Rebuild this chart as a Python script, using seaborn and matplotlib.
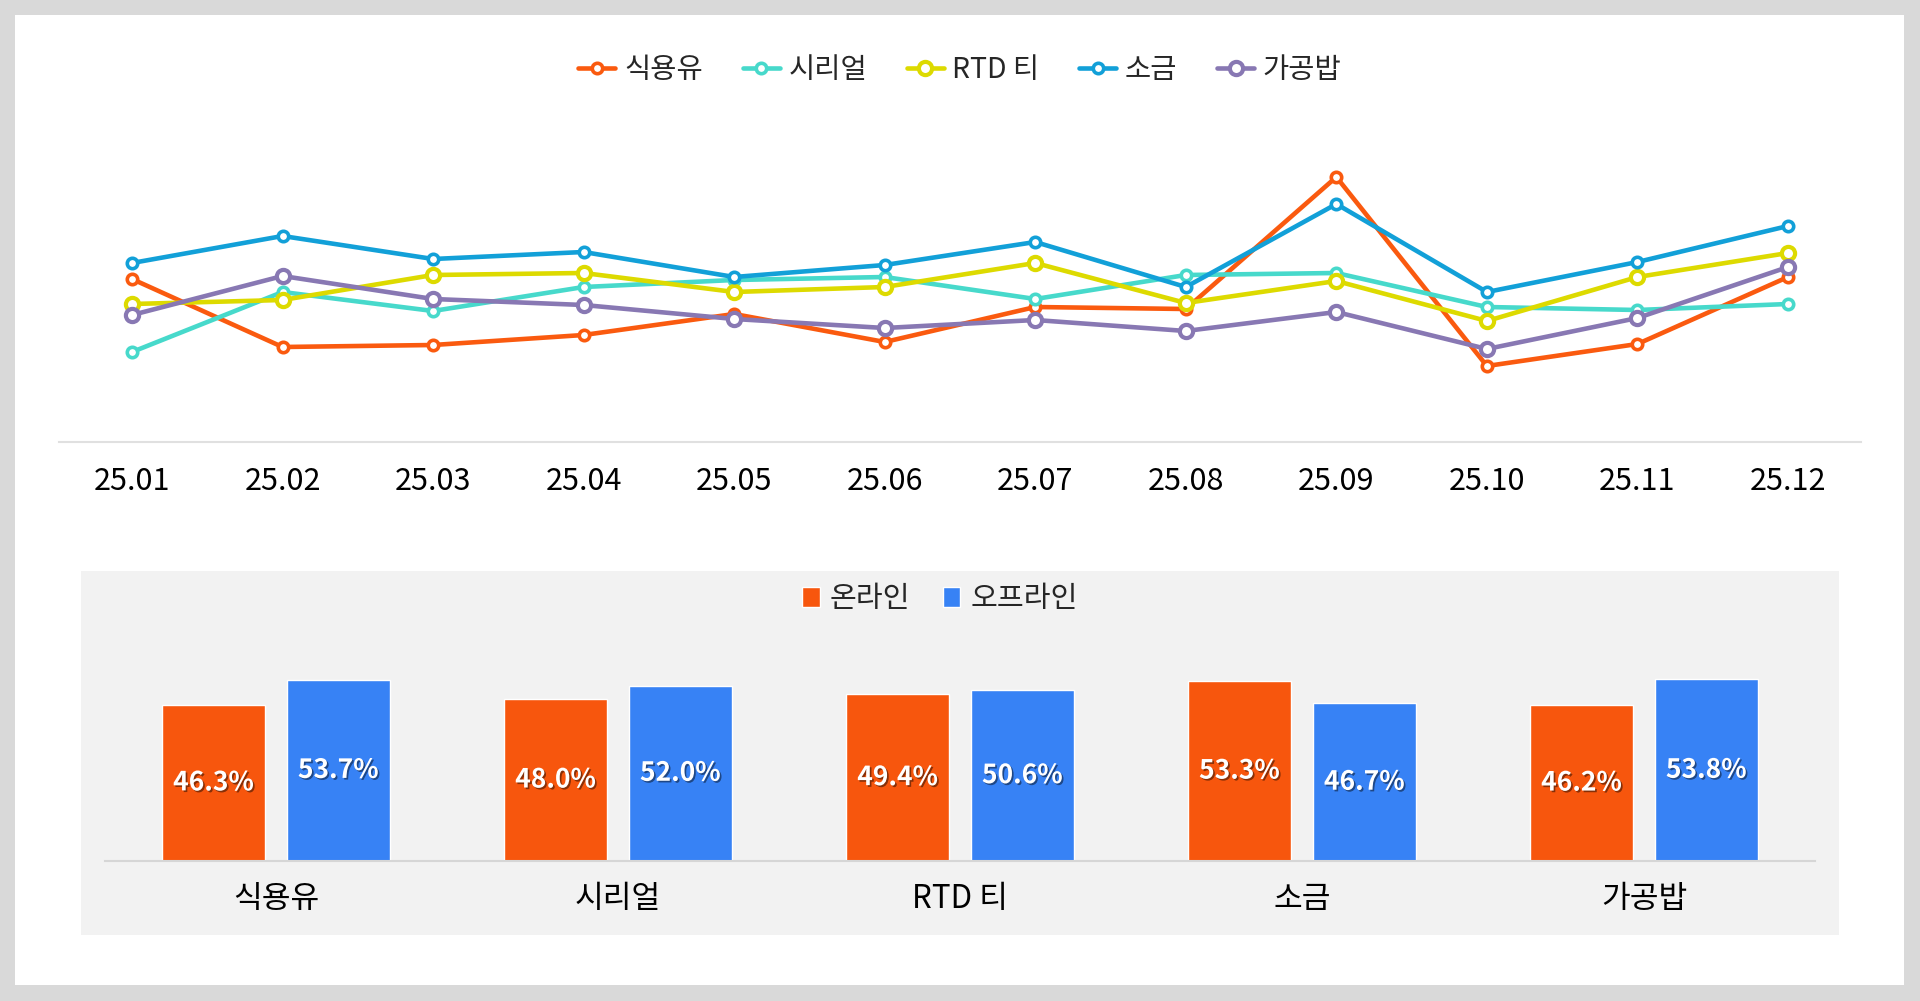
import pandas as pd
import numpy as np
import matplotlib
matplotlib.use('Agg')
import matplotlib.pyplot as plt
import matplotlib.patheffects as pe
from matplotlib.patches import Rectangle
import seaborn as sns

# 월별 추이 (상대 지수, 축 눈금 없음)
months = ['25.01', '25.02', '25.03', '25.04', '25.05', '25.06',
          '25.07', '25.08', '25.09', '25.10', '25.11', '25.12']
oil = [163, 95, 97, 107, 128, 100, 135, 133, 265, 76, 98, 165]
cereal = [90, 150, 131, 155, 162, 165, 143, 167, 169, 135, 132, 138]
rtd_tea = [138, 142, 167, 169, 150, 155, 179, 139, 161, 121, 165, 189]
salt = [179, 206, 183, 190, 165, 177, 200, 155, 238, 150, 180, 216]
rice = [127, 166, 143, 137, 123, 114, 122, 111, 130, 93, 124, 175]

series_names = ['식용유', '시리얼', 'RTD 티', '소금', '가공밥']
series_vals = [oil, cereal, rtd_tea, salt, rice]
line_colors = ['#FA5A0F', '#47D9CB', '#DDDA00', '#12A0D8', '#8878B3']
marker_big = [False, False, True, False, True]

# 채널별 비중
products = ['식용유', '시리얼', 'RTD 티', '소금', '가공밥']
online = [46.3, 48.0, 49.4, 53.3, 46.2]
offline = [53.7, 52.0, 50.6, 46.7, 53.8]
bar_colors = ['#F7560D', '#3782F5']

sns.set_theme(style='white')
plt.rcParams['font.family'] = ['Noto Sans CJK KR', 'DejaVu Sans']

fig = plt.figure(figsize=(19.2, 10.01), dpi=100)
fig.patch.set_facecolor('#d9d9d9')

# 흰색 카드와 하단 회색 패널
fig.patches.append(Rectangle((15 / 1920, 1 - 985 / 1001), 1889 / 1920, 970 / 1001,
                             transform=fig.transFigure, facecolor='white',
                             edgecolor='none', zorder=-10))
fig.patches.append(Rectangle((81 / 1920, 1 - 935 / 1001), 1758 / 1920, 364 / 1001,
                             transform=fig.transFigure, facecolor='#f2f2f2',
                             edgecolor='none', zorder=-9))

# ---- 선 그래프 ----
ax1 = fig.add_axes([59 / 1920, 1 - 442 / 1001, 1802 / 1920, 322 / 1001])
ax1.patch.set_alpha(0)
for name, vals, c, big in zip(series_names, series_vals, line_colors, marker_big):
    sns.lineplot(x=months, y=vals, ax=ax1, color=c, linewidth=3.3,
                 marker='o', markersize=9.5 if big else 7.5,
                 markerfacecolor='white', markeredgecolor=c,
                 markeredgewidth=3.0 if big else 2.6, label=name)
ax1.set_xlim(-0.485, 11.485)
ax1.set_ylim(0, 322)
ax1.set_yticks([])
ax1.set_xlabel('')
ax1.set_ylabel('')
for s in ['top', 'right', 'left']:
    ax1.spines[s].set_visible(False)
ax1.spines['bottom'].set_color('#e0e0e0')
ax1.spines['bottom'].set_linewidth(1.5)
ax1.tick_params(axis='x', length=0, pad=17, labelsize=22, labelcolor='black')

handles, labels = ax1.get_legend_handles_labels()
ax1.get_legend().remove()
fig.legend(handles, labels, loc='center', bbox_to_anchor=(0.5, 1 - 70 / 1001),
           ncol=5, frameon=False, fontsize=20.5, handlelength=1.3,
           handletextpad=0.3, columnspacing=1.4)

# ---- 막대 그래프 ----
df_bar = pd.DataFrame({
    '품목': products * 2,
    '채널': ['온라인'] * len(products) + ['오프라인'] * len(products),
    '비중': online + offline,
})
ax2 = fig.add_axes([105 / 1920, 1 - 861 / 1001, 1710 / 1920, 221 / 1001])
ax2.patch.set_alpha(0)
sns.barplot(data=df_bar, x='품목', y='비중', hue='채널', palette=bar_colors,
            width=0.73, gap=0.18, ax=ax2, saturation=1)
ax2.set_xlim(-0.5, 4.5)
ax2.set_ylim(0, 65.5)
ax2.set_yticks([])
ax2.set_xlabel('')
ax2.set_ylabel('')
for s in ['top', 'right', 'left']:
    ax2.spines[s].set_visible(False)
ax2.spines['bottom'].set_color('#d6d6d6')
ax2.spines['bottom'].set_linewidth(1.5)
ax2.tick_params(axis='x', length=0, pad=15.5, labelsize=22.5, labelcolor='black')

shadow = [pe.withSimplePatchShadow(offset=(1.2, -1.2), shadow_rgbFace='black', alpha=0.45)]
for cont in ax2.containers:
    ax2.bar_label(cont, fmt='%.1f%%', label_type='center', color='white',
                  fontsize=19, fontweight='bold', path_effects=shadow)

h2, l2 = ax2.get_legend_handles_labels()
ax2.get_legend().remove()
fig.legend(h2, l2, loc='center', bbox_to_anchor=(940 / 1920, 1 - 599 / 1001),
           ncol=2, frameon=False, fontsize=21, handlelength=0.6, handleheight=0.7,
           handletextpad=0.35, columnspacing=1.1)

fig.savefig('out.png', dpi=100, facecolor=fig.get_facecolor())
